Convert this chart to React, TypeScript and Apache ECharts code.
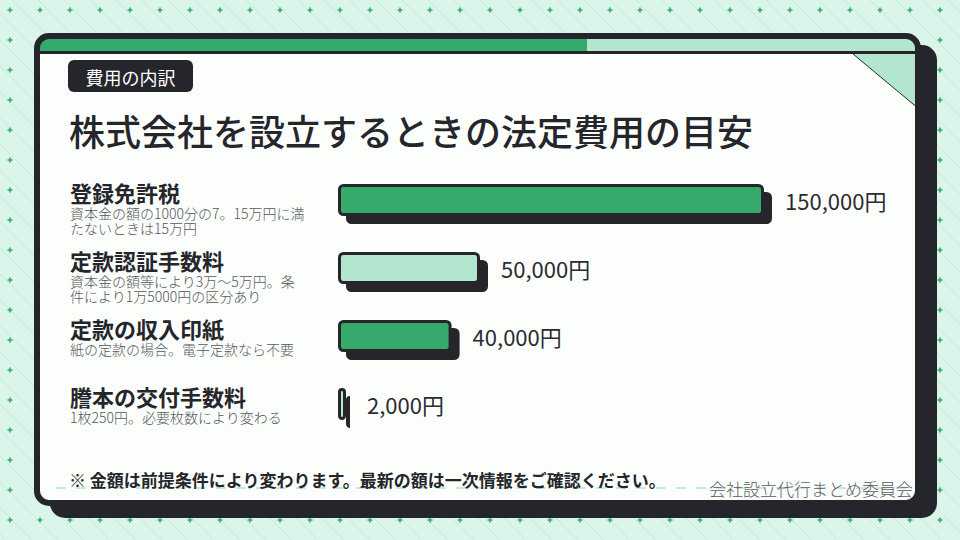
import { useEffect, useRef } from 'react';
import * as echarts from 'echarts';

const categories = ['登録免許税', '定款認証手数料', '定款の収入印紙', '謄本の交付手数料'];
const notes = [
  '資本金の額の1000分の7。15万円に満\nたないときは15万円',
  '資本金の額等により3万～5万円。条\n件により1万5000円の区分あり',
  '紙の定款の場合。電子定款なら不要',
  '1枚250円。必要枚数により変わる',
];
const values = [150000, 50000, 40000, 2000];
const barFills = ['#34AA6C', '#B3E6CF', '#34AA6C', '#B3E6CF'];
const axisMax = 150000;

const tagText = '費用の内訳';
const titleText = '株式会社を設立するときの法定費用の目安';
const footnote = '※ 金額は前提条件により変わります。最新の額は一次情報をご確認ください。';
const sourceText = '会社設立代行まとめ委員会';

const DARK = '#25262B';
const GREEN = '#34AA6C';
const MINT = '#B3E6CF';
const BG = '#DCF5EA';
const CARD = '#FCFEFC';
const FONT = "'Noto Sans CJK JP', 'Noto Sans', sans-serif";

let registered = false;
function registerShapes() {
  if (registered) return;
  registered = true;
  let dots = '';
  for (let x = 10; x < 960; x += 30) {
    for (let y = 10; y < 540; y += 30) {
      dots += `M${x - 2.5} ${y - 0.8}h5v1.6h-5ZM${x - 0.8} ${y - 2.5}h1.6v5h-1.6Z`;
    }
  }
  let lines = '';
  for (let k = -560; k < 980; k += 26) {
    lines += `M${k} 0L${k + 560} 560`;
  }
  echarts.graphic.registerShape('bgDots', echarts.graphic.extendPath(dots, {}));
  echarts.graphic.registerShape('bgLines', echarts.graphic.extendPath(lines, {}));
}

export default function App() {
  const ref = useRef<HTMLDivElement>(null);

  useEffect(() => {
    if (!ref.current) return;
    registerShapes();
    const chart = echarts.init(ref.current, null, { renderer: 'svg' });

    const option: any = {
      animation: false,
      backgroundColor: BG,
      textStyle: { fontFamily: FONT },
      graphic: [
        { type: 'bgLines', x: 0, y: 0, silent: true, style: { fill: 'none', stroke: '#C2EBD8', lineWidth: 1 } },
        { type: 'bgDots', x: 0, y: 0, silent: true, style: { fill: GREEN } },
        // card shadow
        { type: 'rect', silent: true, shape: { x: 50, y: 45, width: 887, height: 473, r: 15 }, style: { fill: DARK } },
        // card body
        { type: 'rect', silent: true, shape: { x: 37, y: 36, width: 881, height: 467, r: 12 }, style: { fill: CARD } },
        // top bars
        { type: 'rect', silent: true, shape: { x: 39, y: 38, width: 548, height: 14 }, style: { fill: GREEN } },
        { type: 'rect', silent: true, shape: { x: 587, y: 38, width: 330, height: 14 }, style: { fill: MINT } },
        { type: 'line', silent: true, shape: { x1: 38, y1: 52.5, x2: 918, y2: 52.5 }, style: { stroke: DARK, lineWidth: 3 } },
        // corner fold
        { type: 'polygon', silent: true, shape: { points: [[853, 54], [918, 54], [918, 108]] }, style: { fill: MINT } },
        { type: 'line', silent: true, shape: { x1: 853, y1: 54, x2: 919, y2: 109 }, style: { stroke: DARK, lineWidth: 1 } },
        // card border
        { type: 'rect', silent: true, shape: { x: 37, y: 36, width: 881, height: 467, r: 12 }, style: { fill: 'none', stroke: DARK, lineWidth: 6 } },
        // tag
        { type: 'rect', silent: true, shape: { x: 68, y: 60, width: 125, height: 32, r: 6 }, style: { fill: DARK } },
        { type: 'text', silent: true, x: 130.5, y: 76.5, style: { text: tagText, fill: '#FFFFFF', font: `normal 18px ${FONT}`, align: 'center', verticalAlign: 'middle' } },
        // title
        { type: 'text', silent: true, x: 69, y: 130, style: { text: titleText, fill: DARK, font: `500 36px ${FONT}`, align: 'left', verticalAlign: 'middle' } },
        // footer dashed line
        { type: 'line', silent: true, shape: { x1: 56, y1: 488, x2: 913, y2: 488 }, style: { stroke: MINT, lineWidth: 1.5, lineDash: [10, 10] } },
        { type: 'text', silent: true, x: 69, y: 479, style: { text: footnote, fill: DARK, font: `bold 17px ${FONT}`, align: 'left', verticalAlign: 'middle' } },
        { type: 'text', silent: true, x: 913, y: 488, style: { text: sourceText, fill: '#5A5B60', font: `300 17px ${FONT}`, align: 'right', verticalAlign: 'middle' } },
      ],
      grid: { left: 338, top: 166, width: 426, height: 272, containLabel: false },
      xAxis: { type: 'value', min: 0, max: axisMax, show: false },
      yAxis: { type: 'category', data: categories, inverse: true, show: false },
      series: [
        {
          type: 'bar',
          z: 3,
          barWidth: 32,
          barMinHeight: 8,
          data: values.map((v, i) => ({ value: v, itemStyle: { color: barFills[i] } })),
          itemStyle: {
            borderColor: DARK,
            borderWidth: 3,
            borderRadius: 4,
            shadowColor: DARK,
            shadowBlur: 0,
            shadowOffsetX: 8,
            shadowOffsetY: 8,
          },
          label: {
            show: true,
            position: 'right',
            distance: 21,
            color: '#2B2C31',
            fontSize: 22,
            fontFamily: FONT,
            formatter: (p: any) => `${Number(p.value).toLocaleString('en-US')}円`,
          },
        },
        {
          type: 'bar',
          z: 4,
          barWidth: 32,
          barGap: '-100%',
          silent: true,
          data: values,
          itemStyle: { color: 'rgba(0,0,0,0)', borderWidth: 0 },
          label: {
            show: true,
            position: [-268, -5],
            align: 'left',
            verticalAlign: 'top',
            formatter: (p: any) => `{t|${categories[p.dataIndex]}}\n{s|${notes[p.dataIndex]}}`,
            rich: {
              t: { fontSize: 22, fontWeight: 'bold', color: DARK, lineHeight: 26, fontFamily: FONT },
              s: { fontSize: 14, fontWeight: 300, color: '#55565B', lineHeight: 15, fontFamily: FONT },
            },
          },
        },
      ],
    };

    chart.setOption(option);
    return () => chart.dispose();
  }, []);

  return <div ref={ref} style={{ position: 'fixed', left: 0, top: 0, width: 960, height: 540 }} />;
}
